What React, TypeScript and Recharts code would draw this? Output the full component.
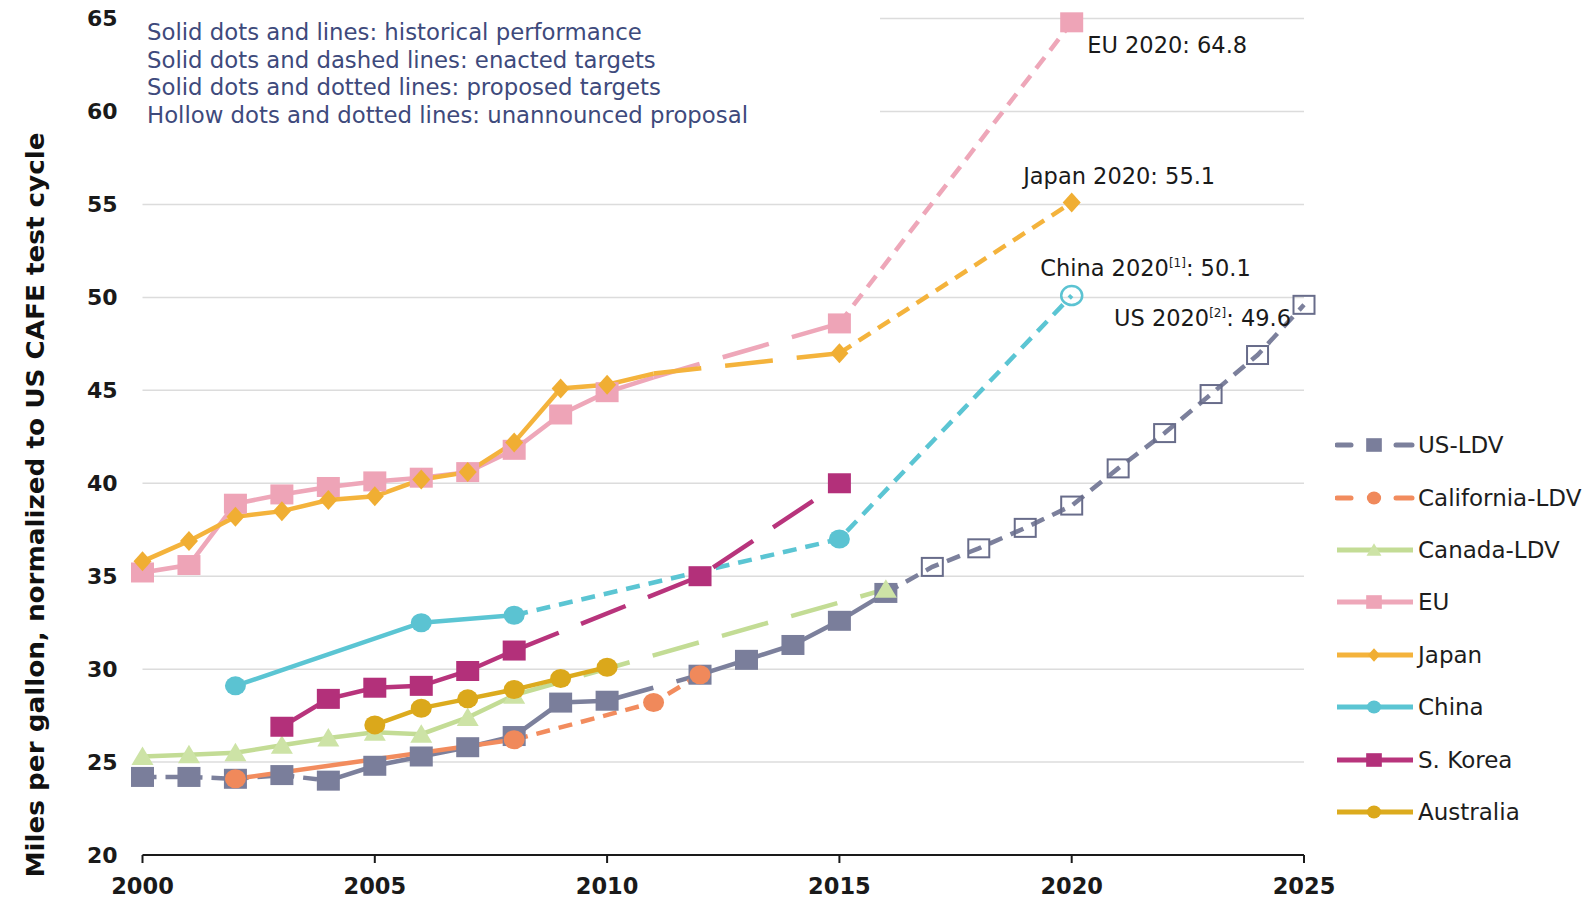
import { CartesianGrid, Legend, Line, LineChart, XAxis, YAxis } from 'recharts';

const FONT = '"DejaVu Sans", "Liberation Sans", sans-serif';

type Pt = [number, number];
type Style = 'solid' | 'dash' | 'dot';
type Seg = [number, number, Style];
type Shape = 'square' | 'circle' | 'triangle' | 'diamond';

const YEARS = [
  2000, 2001, 2002, 2003, 2004, 2005, 2006, 2007, 2008, 2009, 2010, 2011, 2012,
  2013, 2014, 2015, 2016, 2017, 2018, 2019, 2020, 2021, 2022, 2023, 2024, 2025,
];
const X_TICKS = [2000, 2005, 2010, 2015, 2020, 2025];
const Y_TICKS = [20, 25, 30, 35, 40, 45, 50, 55, 60, 65];

// values, mpg normalized to CAFE cycle
const US_LDV: Pt[] = [
  [2000, 24.2], [2001, 24.2], [2002, 24.1], [2003, 24.3], [2004, 24.0], [2005, 24.8],
  [2006, 25.3], [2007, 25.8], [2008, 26.4], [2009, 28.2], [2010, 28.3], [2012, 29.7],
  [2013, 30.5], [2014, 31.3], [2015, 32.6], [2016, 34.1], [2017, 35.5], [2018, 36.5],
  [2019, 37.6], [2020, 38.8], [2021, 40.8], [2022, 42.7], [2023, 44.8], [2024, 46.9],
  [2025, 49.6],
];
const CALIFORNIA: Pt[] = [[2002, 24.1], [2008, 26.2], [2011, 28.2], [2012, 29.7]];
const CANADA: Pt[] = [
  [2000, 25.3], [2001, 25.4], [2002, 25.5], [2003, 25.9], [2004, 26.3], [2005, 26.6],
  [2006, 26.5], [2007, 27.4], [2008, 28.6], [2016, 34.3],
];
const EU: Pt[] = [
  [2000, 35.2], [2001, 35.6], [2002, 38.9], [2003, 39.4], [2004, 39.8], [2005, 40.1],
  [2006, 40.3], [2007, 40.6], [2008, 41.8], [2009, 43.7], [2010, 44.9], [2011, 45.7],
  [2015, 48.6], [2020, 64.8],
];
const JAPAN: Pt[] = [
  [2000, 35.8], [2001, 36.9], [2002, 38.2], [2003, 38.5], [2004, 39.1], [2005, 39.3],
  [2006, 40.2], [2007, 40.6], [2008, 42.2], [2009, 45.1], [2010, 45.3], [2011, 45.9],
  [2015, 47.0], [2020, 55.1],
];
const CHINA: Pt[] = [[2002, 29.1], [2006, 32.5], [2008, 32.9], [2015, 37.0], [2020, 50.1]];
const S_KOREA: Pt[] = [
  [2003, 26.9], [2004, 28.4], [2005, 29.0], [2006, 29.1], [2007, 29.9], [2008, 31.0],
  [2012, 35.0], [2015, 40.0],
];
const AUSTRALIA: Pt[] = [[2005, 27.0], [2006, 27.9], [2007, 28.4], [2008, 28.9], [2009, 29.5], [2010, 30.1]];

const US_SEGS: Seg[] = [[2000, 2004, 'dot'], [2004, 2010, 'solid'], [2010, 2012, 'dash'], [2012, 2016, 'solid'], [2016, 2025, 'dot']];
const CALIFORNIA_SEGS: Seg[] = [[2002, 2008, 'solid'], [2008, 2012, 'dot']];
const CANADA_SEGS: Seg[] = [[2000, 2008, 'solid'], [2008, 2016, 'dash']];
const EU_SEGS: Seg[] = [[2000, 2011, 'solid'], [2011, 2015, 'dash'], [2015, 2020, 'dot']];
const JAPAN_SEGS: Seg[] = [[2000, 2011, 'solid'], [2011, 2015, 'dash'], [2015, 2020, 'dot']];
const CHINA_SEGS: Seg[] = [[2002, 2008, 'solid'], [2008, 2020, 'dot']];
const S_KOREA_SEGS: Seg[] = [[2003, 2008, 'solid'], [2008, 2015, 'dash']];
const AUSTRALIA_SEGS: Seg[] = [[2005, 2010, 'solid']];

const US_HOLLOW = [2017, 2018, 2019, 2020, 2021, 2022, 2023, 2024, 2025];
const CHINA_HOLLOW = [2020];

interface Series {
  id: string;
  name: string;
  color: string;
  markColor: string;
  shape: Shape;
  values: Pt[];
  segs: Seg[];
  hollow: number[];
  noMark: number[];
  legendDashed: boolean;
}

const SERIES: Series[] = [
  { id: 'us', name: 'US-LDV', color: '#7c809c', markColor: '#7a7e9b', shape: 'square', values: US_LDV, segs: US_SEGS, hollow: US_HOLLOW, noMark: [], legendDashed: true },
  { id: 'ca', name: 'California-LDV', color: '#f28c5e', markColor: '#f0895b', shape: 'circle', values: CALIFORNIA, segs: CALIFORNIA_SEGS, hollow: [], noMark: [], legendDashed: true },
  { id: 'cn', name: 'Canada-LDV', color: '#c3dc95', markColor: '#cde3a6', shape: 'triangle', values: CANADA, segs: CANADA_SEGS, hollow: [], noMark: [], legendDashed: false },
  { id: 'eu', name: 'EU', color: '#eea7b9', markColor: '#eea4b7', shape: 'square', values: EU, segs: EU_SEGS, hollow: [], noMark: [2011], legendDashed: false },
  { id: 'jp', name: 'Japan', color: '#f4b33c', markColor: '#f0ae33', shape: 'diamond', values: JAPAN, segs: JAPAN_SEGS, hollow: [], noMark: [2011], legendDashed: false },
  { id: 'ch', name: 'China', color: '#5bc5d3', markColor: '#5bc3d2', shape: 'circle', values: CHINA, segs: CHINA_SEGS, hollow: CHINA_HOLLOW, noMark: [], legendDashed: false },
  { id: 'kr', name: 'S. Korea', color: '#b8347c', markColor: '#b3307a', shape: 'square', values: S_KOREA, segs: S_KOREA_SEGS, hollow: [], noMark: [], legendDashed: false },
  { id: 'au', name: 'Australia', color: '#dcab1e', markColor: '#dba81b', shape: 'circle', values: AUSTRALIA, segs: AUSTRALIA_SEGS, hollow: [], noMark: [], legendDashed: false },
];

// drawing order (bottom to top)
const DRAW_ORDER = ['us', 'cn', 'eu', 'ch', 'kr', 'jp', 'ca', 'au'];

const CALLOUTS = [
  { id: 'eu', year: 2020, text: 'EU 2020', sup: '', tail: ': 64.8', dx: 15.5, dy: 30.5, anchor: 'start' },
  { id: 'jp', year: 2020, text: 'Japan 2020', sup: '', tail: ': 55.1', dx: -48.5, dy: -19, anchor: 'start' },
  { id: 'ch', year: 2020, text: 'China 2020', sup: '[1]', tail: ': 50.1', dx: -31.5, dy: -20, anchor: 'start' },
  { id: 'us', year: 2025, text: 'US 2020', sup: '[2]', tail: ': 49.6', dx: -13, dy: 21.3, anchor: 'end' },
];

const NOTES = [
  'Solid dots and lines: historical performance',
  'Solid dots and dashed lines: enacted targets',
  'Solid dots and dotted lines: proposed targets',
  'Hollow dots and dotted lines: unannounced proposal',
];

const DASH: Record<Style, string | undefined> = { solid: undefined, dash: '48 24', dot: '14 9' };

const ROWS = YEARS.map((year) => {
  const row: Record<string, number | null> = { year };
  SERIES.forEach((s) => {
    const hit = s.values.find((p) => p[0] === year);
    const v = hit ? hit[1] : null;
    s.segs.forEach(([a, b], i) => {
      row[`${s.id}_${i}`] = v != null && year >= a && year <= b ? v : null;
    });
    row[`${s.id}_m`] = v != null && !s.hollow.includes(year) && !s.noMark.includes(year) ? v : null;
    row[`${s.id}_h`] = v != null && s.hollow.includes(year) ? v : null;
  });
  return row;
});

function markShape(shape: Shape, cx: number, cy: number, k: number, color: string, hollow: boolean) {
  const fill = hollow ? 'none' : color;
  const stroke = hollow ? color : 'none';
  const sw = hollow ? 2 : 0;
  if (shape === 'square') {
    const w = (hollow ? 21 : 23) * k;
    const h = (hollow ? 18 : 20) * k;
    return <rect x={cx - w / 2} y={cy - h / 2} width={w} height={h} fill={fill} stroke={stroke} strokeWidth={sw} />;
  }
  if (shape === 'circle') {
    return <ellipse cx={cx} cy={cy} rx={10.5 * k} ry={9.5 * k} fill={fill} stroke={stroke} strokeWidth={hollow ? 2.5 : 0} />;
  }
  if (shape === 'diamond') {
    const w = 9 * k;
    const h = 10 * k;
    return <polygon points={`${cx},${cy - h} ${cx + w},${cy} ${cx},${cy + h} ${cx - w},${cy}`} fill={fill} stroke={stroke} strokeWidth={sw} />;
  }
  return (
    <polygon
      points={`${cx},${cy - 10 * k} ${cx + 11 * k},${cy + 8.5 * k} ${cx - 11 * k},${cy + 8.5 * k}`}
      fill={fill}
      stroke={stroke}
      strokeWidth={sw}
    />
  );
}

function renderMark(s: Series, hollow: boolean, p: any) {
  const dataKey = `${s.id}_${hollow ? 'h' : 'm'}`;
  const key = `${dataKey}-${p.index}`;
  const v = p.payload ? p.payload[dataKey] : null;
  if (v == null || p.cx == null || p.cy == null) return <g key={key} />;
  const year = p.payload.year;
  const c = CALLOUTS.find((o) => o.id === s.id && o.year === year);
  const color = hollow && s.id === 'us' ? '#686c8a' : s.markColor;
  return (
    <g key={key}>
      {markShape(s.shape, p.cx, p.cy, 1, color, hollow)}
      {c && (
        <text
          x={p.cx + c.dx}
          y={p.cy + c.dy}
          textAnchor={c.anchor as 'start' | 'end'}
          fontFamily={FONT}
          fontSize={22.5}
          fill="#1a1a1a"
        >
          <tspan>{c.text}</tspan>
          {c.sup && (
            <tspan fontSize={12} dy={-9}>
              {c.sup}
            </tspan>
          )}
          <tspan dy={c.sup ? 9 : 0}>{c.tail}</tspan>
        </text>
      )}
    </g>
  );
}

function LegendBox() {
  return (
    <div style={{ fontFamily: FONT }}>
      {SERIES.map((s) => (
        <div key={s.id} style={{ height: 52.4, display: 'flex', alignItems: 'center' }}>
          <svg width={80} height={26}>
            {s.legendDashed ? (
              <>
                <line x1={2} y1={13} x2={16} y2={13} stroke={s.color} strokeWidth={5} strokeLinecap="round" />
                <line x1={61} y1={13} x2={77} y2={13} stroke={s.color} strokeWidth={5} strokeLinecap="round" />
              </>
            ) : (
              <line x1={2} y1={13} x2={78} y2={13} stroke={s.color} strokeWidth={5} />
            )}
            {markShape(s.shape, 39, 13, 0.68, s.markColor, false)}
          </svg>
          <span style={{ fontSize: 23, marginLeft: 3, color: '#1d1d1d', whiteSpace: 'nowrap' }}>{s.name}</span>
        </div>
      ))}
    </div>
  );
}

const ordered = DRAW_ORDER.map((id) => SERIES.find((s) => s.id === id) as Series);

export default function App() {
  return (
    <div style={{ position: 'absolute', left: 0, top: 0, width: 1596, height: 902, background: '#fff' }}>
      <LineChart width={1596} height={902} data={ROWS} margin={{ top: 18.6, right: 292, bottom: 0, left: 0 }}>
        <CartesianGrid vertical={false} stroke="#dcdcdc" strokeWidth={1.5} />
        <XAxis
          dataKey="year"
          type="number"
          domain={[2000, 2025]}
          ticks={X_TICKS}
          interval={0}
          height={47}
          axisLine={{ stroke: '#1a1a1a', strokeWidth: 2 }}
          tickLine={{ stroke: '#1a1a1a', strokeWidth: 2 }}
          tickSize={8}
          tickMargin={15}
          tick={{ fontSize: 22.5, fontWeight: 700, fill: '#1a1a1a', fontFamily: FONT }}
        />
        <YAxis
          type="number"
          domain={[20, 65]}
          ticks={Y_TICKS}
          interval={0}
          width={142.5}
          axisLine={false}
          tickLine={false}
          tickSize={6}
          tickMargin={19}
          tick={{ fontSize: 22, fontWeight: 700, fill: '#1a1a1a', fontFamily: FONT }}
          label={{
            content: () => (
              <text
                transform="translate(44, 505) rotate(-90)"
                textAnchor="middle"
                fontFamily={FONT}
                fontSize={24}
                fontWeight={700}
                fill="#111"
                textLength={745}
                lengthAdjust="spacingAndGlyphs"
              >
                Miles per gallon, normalized to US CAFE test cycle
              </text>
            ),
          }}
        />
        <Legend
          layout="vertical"
          align="center"
          verticalAlign="middle"
          content={() => <LegendBox />}
          wrapperStyle={{ left: 1335, top: 419, width: 260 }}
        />
        {ordered.flatMap((s) => [
          ...s.segs.map(([, , style], i) => (
            <Line
              key={`${s.id}_${i}`}
              type="linear"
              dataKey={`${s.id}_${i}`}
              stroke={s.color}
              strokeWidth={4.5}
              strokeDasharray={DASH[style]}
              dot={false}
              activeDot={false}
              connectNulls
              isAnimationActive={false}
            />
          )),
          <Line
            key={`${s.id}_m`}
            type="linear"
            dataKey={`${s.id}_m`}
            stroke="none"
            dot={(p: any) => renderMark(s, false, p)}
            activeDot={false}
            isAnimationActive={false}
          />,
          <Line
            key={`${s.id}_h`}
            type="linear"
            dataKey={`${s.id}_h`}
            stroke="none"
            dot={(p: any) => renderMark(s, true, p)}
            activeDot={false}
            isAnimationActive={false}
          />,
        ])}
      </LineChart>
      <div
        style={{
          position: 'absolute',
          left: 142,
          top: 0,
          width: 738,
          height: 130,
          background: '#fff',
          boxSizing: 'border-box',
          paddingTop: 19,
          paddingLeft: 5,
          fontFamily: FONT,
          fontSize: 22.8,
          lineHeight: '27.5px',
          color: '#3e4a7c',
        }}
      >
        {NOTES.map((n) => (
          <div key={n} style={{ whiteSpace: 'nowrap' }}>
            {n}
          </div>
        ))}
      </div>
    </div>
  );
}
